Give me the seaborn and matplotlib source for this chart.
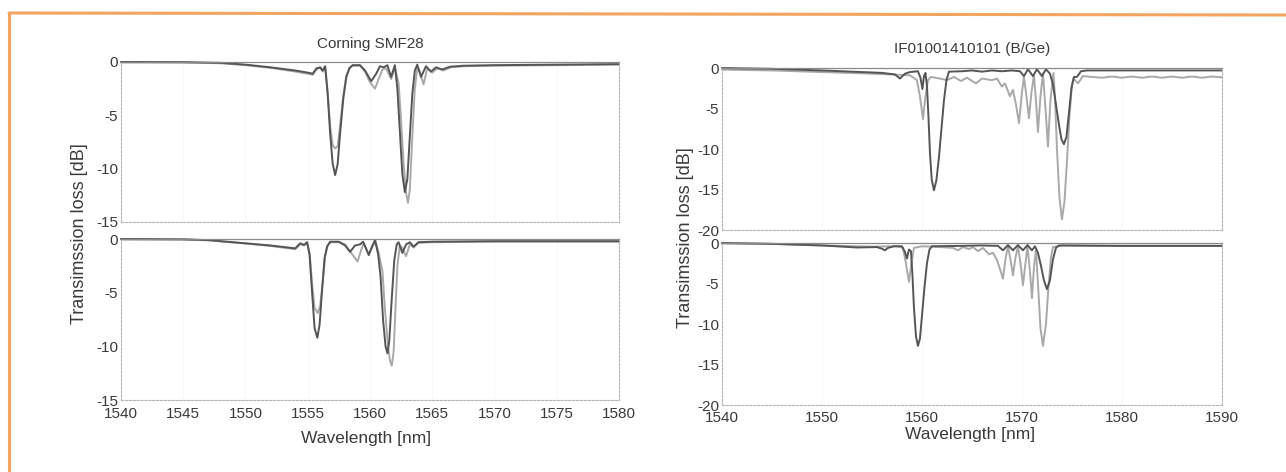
import matplotlib
matplotlib.use("Agg")
import matplotlib.pyplot as plt
from matplotlib.lines import Line2D
import seaborn as sns

# ---------------- Corning SMF28, upper measurement ----------------
smf_a_wl_dark = [1540.0, 1545.0, 1548.0, 1550.0, 1552.0, 1554.0, 1555.0, 1555.4, 1555.7, 1556.0,
                 1556.2, 1556.4, 1556.6, 1556.8, 1557.0, 1557.2, 1557.4, 1557.6, 1557.85, 1558.1,
                 1558.35, 1558.6, 1559.2, 1559.6, 1560.1, 1560.5, 1560.8, 1561.1, 1561.4, 1561.7,
                 1562.0, 1562.2, 1562.4, 1562.6, 1562.8, 1563.0, 1563.2, 1563.4, 1563.6, 1563.8,
                 1564.1, 1564.5, 1564.9, 1565.3, 1565.8, 1566.4, 1567.5, 1570.0, 1575.0, 1580.0]
smf_a_db_dark = [0.0, -0.02, -0.08, -0.25, -0.5, -0.8, -1.0, -1.1, -0.6, -0.5,
                 -0.8, -0.4, -3.0, -6.7, -9.5, -10.6, -9.6, -6.7, -3.5, -1.4,
                 -0.6, -0.3, -0.3, -0.8, -1.8, -1.1, -0.4, -0.5, -0.3, -1.4,
                 -0.3, -2.5, -6.5, -10.5, -12.2, -11.0, -7.0, -3.0, -0.8, -0.25,
                 -1.4, -0.4, -0.9, -0.5, -0.7, -0.45, -0.35, -0.3, -0.25, -0.2]

smf_a_wl_light = [1540.0, 1545.0, 1548.0, 1550.0, 1552.0, 1554.0, 1555.0, 1555.4, 1555.7, 1556.0,
                  1556.2, 1556.4, 1556.6, 1556.8, 1557.0, 1557.2, 1557.4, 1557.6, 1557.85, 1558.1,
                  1558.35, 1558.6, 1559.2, 1559.6, 1560.0, 1560.4, 1560.7, 1561.0, 1561.3, 1561.7,
                  1562.0, 1562.3, 1562.5, 1562.7, 1562.9, 1563.05, 1563.2, 1563.4, 1563.6, 1563.8,
                  1564.0, 1564.3, 1564.6, 1565.0, 1565.4, 1565.9, 1566.5, 1567.5, 1570.0, 1575.0, 1580.0]
smf_a_db_light = [-0.05, -0.05, -0.12, -0.3, -0.55, -0.9, -1.1, -1.2, -0.7, -0.55,
                  -0.9, -0.45, -2.8, -6.0, -7.8, -8.1, -7.9, -6.0, -3.2, -1.3,
                  -0.55, -0.35, -0.35, -0.9, -1.9, -2.5, -1.6, -0.7, -0.6, -1.6,
                  -0.5, -2.0, -5.5, -9.5, -12.3, -13.2, -12.0, -7.0, -2.5, -0.6,
                  -0.9, -2.1, -0.6, -1.0, -0.6, -0.8, -0.5, -0.4, -0.35, -0.3, -0.25]

# ---------------- Corning SMF28, lower measurement ----------------
smf_b_wl_dark = [1540.0, 1545.0, 1547.0, 1550.0, 1552.0, 1554.0, 1554.4, 1554.7, 1554.95, 1555.15,
                 1555.35, 1555.55, 1555.77, 1555.95, 1556.15, 1556.35, 1556.55, 1556.8, 1557.5, 1558.0,
                 1558.4, 1558.8, 1559.2, 1559.45, 1559.9, 1560.2, 1560.4, 1560.65, 1560.85, 1561.05,
                 1561.25, 1561.4, 1561.55, 1561.75, 1561.95, 1562.15, 1562.3, 1562.6, 1562.9, 1563.2,
                 1563.5, 1563.9, 1565.0, 1570.0, 1575.0, 1580.0]
smf_b_db_dark = [0.0, -0.03, -0.1, -0.4, -0.6, -0.87, -0.4, -0.55, -0.3, -1.5,
                 -5.0, -8.3, -9.2, -8.0, -4.8, -1.8, -0.7, -0.25, -0.25, -0.6,
                 -1.2, -0.6, -0.5, -0.25, -1.5, -0.6, -0.1, -1.4, -3.5, -7.5,
                 -10.0, -10.65, -9.5, -5.5, -2.0, -0.5, -0.3, -1.3, -0.5, -0.3,
                 -0.7, -0.3, -0.25, -0.2, -0.2, -0.2]

smf_b_wl_light = [1540.0, 1545.0, 1547.0, 1550.0, 1552.0, 1554.0, 1554.4, 1554.7, 1554.95, 1555.15,
                  1555.35, 1555.55, 1555.8, 1556.0, 1556.2, 1556.4, 1556.6, 1556.85, 1557.5, 1558.0,
                  1558.5, 1559.0, 1559.3, 1559.5, 1559.9, 1560.2, 1560.45, 1560.7, 1561.0, 1561.2,
                  1561.45, 1561.6, 1561.75, 1561.9, 1562.05, 1562.2, 1562.4, 1562.6, 1562.9, 1563.2,
                  1563.5, 1563.9, 1565.0, 1570.0, 1575.0, 1580.0]
smf_b_db_light = [-0.05, -0.05, -0.12, -0.42, -0.65, -0.95, -0.45, -0.6, -0.35, -1.3,
                  -4.2, -6.4, -6.9, -6.2, -4.0, -1.6, -0.6, -0.3, -0.3, -0.5,
                  -1.3, -2.1, -1.0, -0.4, -1.4, -0.7, -0.2, -1.3, -3.0, -6.5,
                  -10.0, -11.3, -11.8, -10.5, -6.5, -2.5, -0.6, -0.8, -1.6, -0.5,
                  -0.8, -0.35, -0.3, -0.25, -0.25, -0.25]

# ---------------- IF01001410101 (B/Ge), upper measurement ----------------
bge_a_wl_dark = [1540.0, 1545.0, 1550.0, 1554.0, 1556.0, 1557.3, 1557.8, 1558.3, 1558.8, 1559.6,
                 1559.85, 1560.05, 1560.2, 1560.35, 1560.5, 1560.65, 1560.8, 1560.98, 1561.2, 1561.45,
                 1561.7, 1561.95, 1562.2, 1562.45, 1562.7, 1564.0, 1565.0, 1566.0, 1567.0, 1568.0,
                 1569.0, 1569.8, 1570.2, 1570.6, 1571.1, 1571.5, 1572.0, 1572.4, 1572.8, 1573.1,
                 1573.4, 1573.7, 1573.95, 1574.2, 1574.45, 1574.7, 1574.95, 1575.2, 1575.5, 1575.9,
                 1576.5, 1580.0, 1585.0, 1590.0]
bge_a_db_dark = [0.0, -0.1, -0.3, -0.5, -0.6, -0.8, -1.3, -0.7, -0.5, -0.4,
                 -1.2, -2.6, -1.0, -0.6, -2.2, -6.0, -10.5, -13.8, -15.1, -13.8,
                 -11.0, -7.5, -4.0, -1.5, -0.45, -0.4, -0.3, -0.45, -0.3, -0.4,
                 -0.3, -0.4, -1.0, -0.15, -1.0, -0.15, -1.0, -0.15, -0.7, -2.0,
                 -4.5, -7.0, -8.8, -9.4, -8.5, -5.5, -2.5, -1.1, -1.1, -0.4,
                 -0.3, -0.3, -0.3, -0.3]

bge_a_wl_light = [1540.0, 1545.0, 1550.0, 1553.8, 1557.1, 1558.8, 1559.5, 1559.8, 1560.1, 1560.35,
                  1560.6, 1560.9, 1561.8, 1562.5, 1563.2, 1563.9, 1564.5, 1565.4, 1566.0, 1567.0,
                  1567.5, 1568.0, 1568.3, 1568.8, 1569.1, 1569.4, 1569.7, 1570.0, 1570.2, 1570.45,
                  1570.7, 1570.95, 1571.2, 1571.4, 1571.6, 1571.85, 1572.1, 1572.35, 1572.6, 1572.85,
                  1573.15, 1573.3, 1573.5, 1573.75, 1574.0, 1574.25, 1574.5, 1574.75, 1575.0, 1575.15,
                  1575.6, 1576.1, 1577.0, 1578.0, 1579.0, 1580.0, 1581.0, 1582.0, 1583.0, 1584.0,
                  1585.0, 1586.0, 1587.0, 1588.0, 1589.0, 1590.0]
bge_a_db_light = [-0.2, -0.3, -0.5, -0.65, -0.8, -0.9, -1.5, -3.5, -6.3, -3.5,
                  -1.5, -1.1, -1.3, -1.5, -1.1, -1.6, -1.2, -1.9, -1.3, -1.5,
                  -1.3, -2.3, -1.9, -3.5, -2.7, -4.5, -6.8, -3.0, -1.1, -3.5,
                  -6.2, -3.0, -0.85, -4.0, -7.9, -3.5, -0.65, -5.0, -9.7, -4.0,
                  -0.6, -3.5, -10.0, -16.0, -18.7, -16.5, -11.5, -6.0, -2.0, -1.3,
                  -1.9, -1.0, -1.1, -1.2, -1.05, -1.2, -1.05, -1.2, -1.05, -1.2,
                  -1.05, -1.2, -1.05, -1.2, -1.05, -1.15]

# ---------------- IF01001410101 (B/Ge), lower measurement ----------------
bge_b_wl_dark = [1540.0, 1545.0, 1550.0, 1553.5, 1555.5, 1556.0, 1556.3, 1556.6, 1557.2, 1558.0,
                 1558.3, 1558.5, 1558.7, 1558.9, 1559.05, 1559.2, 1559.4, 1559.6, 1559.8, 1560.0,
                 1560.25, 1560.5, 1560.75, 1561.0, 1564.0, 1566.0, 1567.6, 1568.1, 1568.6, 1569.1,
                 1569.6, 1570.1, 1570.55, 1571.0, 1571.3, 1571.6, 1571.9, 1572.2, 1572.5, 1572.8,
                 1573.1, 1573.4, 1573.7, 1580.0, 1590.0]
bge_b_db_dark = [0.0, -0.1, -0.3, -0.55, -0.5, -0.7, -0.9, -0.6, -0.4, -0.4,
                 -1.1, -1.9, -0.8, -1.0, -4.0, -8.0, -11.5, -12.7, -11.8, -9.0,
                 -5.5, -2.5, -0.8, -0.4, -0.35, -0.3, -0.35, -0.9, -0.25, -0.9,
                 -0.25, -0.9, -0.25, -0.9, -0.4, -1.2, -2.8, -4.6, -5.7, -4.6,
                 -2.0, -0.6, -0.3, -0.35, -0.35]

bge_b_wl_light = [1540.0, 1545.0, 1550.0, 1555.0, 1557.5, 1558.1, 1558.4, 1558.7, 1558.95, 1559.2,
                  1560.0, 1561.1, 1562.5, 1563.1, 1563.6, 1564.1, 1564.7, 1565.1, 1565.6, 1566.1,
                  1566.7, 1567.1, 1567.5, 1567.8, 1568.1, 1568.35, 1568.6, 1568.85, 1569.1, 1569.35,
                  1569.6, 1569.85, 1570.1, 1570.35, 1570.55, 1570.8, 1571.0, 1571.2, 1571.4, 1571.6,
                  1571.85, 1572.1, 1572.4, 1572.65, 1572.9, 1573.1, 1574.0, 1580.0, 1590.0]
bge_b_db_light = [-0.05, -0.1, -0.3, -0.45, -0.4, -0.6, -2.5, -4.8, -2.5, -0.6,
                  -0.4, -0.45, -0.55, -0.6, -0.9, -0.5, -0.75, -0.5, -1.0, -0.6,
                  -1.4, -1.2, -2.1, -3.2, -4.4, -2.0, -0.4, -2.0, -4.0, -1.8,
                  -0.4, -2.5, -5.2, -2.5, -0.4, -3.5, -6.8, -3.0, -0.8, -5.0,
                  -10.5, -12.7, -10.0, -5.5, -1.8, -0.5, -0.3, -0.35, -0.35]

# axis labels / ticks
title_left = "Corning SMF28"
title_right = "IF01001410101 (B/Ge)"
ylabel_text = "Transimssion loss [dB]"
xlabel_text = "Wavelength [nm]"
xticks_left = [1540, 1545, 1550, 1555, 1560, 1565, 1570, 1575, 1580]
yticks_left = [0, -5, -10, -15]
xticks_right = [1540, 1550, 1560, 1570, 1580, 1590]
yticks_right = [0, -5, -10, -15, -20]

sns.set_theme(style="white")
plt.rcParams["font.family"] = ["Liberation Sans", "DejaVu Sans"]

DARK = "#555555"
LIGHT = "#a9a9a9"
TEXT = "#3a3a3a"
ORANGE = "#f2a460"

fig = plt.figure(figsize=(12.86, 4.72), dpi=100)
fig.patch.set_facecolor("white")

ax_lt = fig.add_axes([0.0941, 0.5297, 0.3872, 0.3390])
ax_lb = fig.add_axes([0.0941, 0.1525, 0.3872, 0.3411])
ax_rt = fig.add_axes([0.5614, 0.5127, 0.3888, 0.3432])
ax_rb = fig.add_axes([0.5614, 0.1419, 0.3888, 0.3432])


def draw_pair(ax, wl_light, db_light, wl_dark, db_dark):
    sns.lineplot(x=wl_light, y=db_light, ax=ax, color=LIGHT, linewidth=1.4,
                 estimator=None, sort=False, clip_on=False)
    sns.lineplot(x=wl_dark, y=db_dark, ax=ax, color=DARK, linewidth=1.4,
                 estimator=None, sort=False, clip_on=False)


def style_axes(ax, xlim, ylim, xticks, yticks, show_x, xpad):
    ax.set_xlim(*xlim)
    ax.set_ylim(*ylim)
    ax.set_xticks(xticks)
    ax.set_yticks(yticks)
    ax.set_xlabel("")
    ax.set_ylabel("")
    if show_x:
        ax.set_xticklabels([str(t) for t in xticks])
    else:
        ax.set_xticklabels([])
    ax.set_yticklabels([str(t) for t in yticks])
    ax.tick_params(axis="both", length=0, labelsize=11, colors=TEXT)
    ax.tick_params(axis="x", pad=xpad)
    ax.tick_params(axis="y", pad=2)
    ax.grid(True, axis="x", color="#ececec", linestyle=":", linewidth=0.7)
    for side in ("left", "right", "bottom"):
        ax.spines[side].set_color("#b5b5b5")
        ax.spines[side].set_linestyle((0, (2, 1.5)))
        ax.spines[side].set_linewidth(0.8)
    ax.spines["top"].set_color("#8a8a8a")
    ax.spines["top"].set_linewidth(0.9)
    ax.set_facecolor("white")


draw_pair(ax_lt, smf_a_wl_light, smf_a_db_light, smf_a_wl_dark, smf_a_db_dark)
draw_pair(ax_lb, smf_b_wl_light, smf_b_db_light, smf_b_wl_dark, smf_b_db_dark)
draw_pair(ax_rt, bge_a_wl_light, bge_a_db_light, bge_a_wl_dark, bge_a_db_dark)
draw_pair(ax_rb, bge_b_wl_light, bge_b_db_light, bge_b_wl_dark, bge_b_db_dark)

style_axes(ax_lt, (1540, 1580), (-15, 0), xticks_left, yticks_left, False, 5)
style_axes(ax_lb, (1540, 1580), (-15, 0), xticks_left, yticks_left, True, 5)
style_axes(ax_rt, (1540, 1590), (-20, 0), xticks_right, yticks_right, False, 4)
style_axes(ax_rb, (1540, 1590), (-20, 0), xticks_right, yticks_right, True, 4)

ax_lt.set_title(title_left, fontsize=11, color=TEXT, pad=10)
ax_rt.set_title(title_right, fontsize=11, color=TEXT, pad=11)

fig.text(80 / 1286, 1 - 234 / 472, ylabel_text, rotation=90, ha="center", va="center",
         fontsize=13, color=TEXT)
fig.text(686 / 1286, 1 - 238 / 472, ylabel_text, rotation=90, ha="center", va="center",
         fontsize=13, color=TEXT)
fig.text(366 / 1286, 1 - 438 / 472, xlabel_text, ha="center", va="center",
         fontsize=12.5, color=TEXT)
fig.text(970 / 1286, 1 - 435 / 472, xlabel_text, ha="center", va="center",
         fontsize=12.5, color=TEXT)

# orange frame along the top and left edge of the page
fig.add_artist(Line2D([9 / 1286, 1.0], [1 - 13 / 472, 1 - 15 / 472],
                      transform=fig.transFigure, color=ORANGE, linewidth=2.2))
fig.add_artist(Line2D([9 / 1286, 9 / 1286], [1 - 13 / 472, 0.0],
                      transform=fig.transFigure, color=ORANGE, linewidth=2.2))

fig.savefig("out.png", dpi=100, facecolor="white")
